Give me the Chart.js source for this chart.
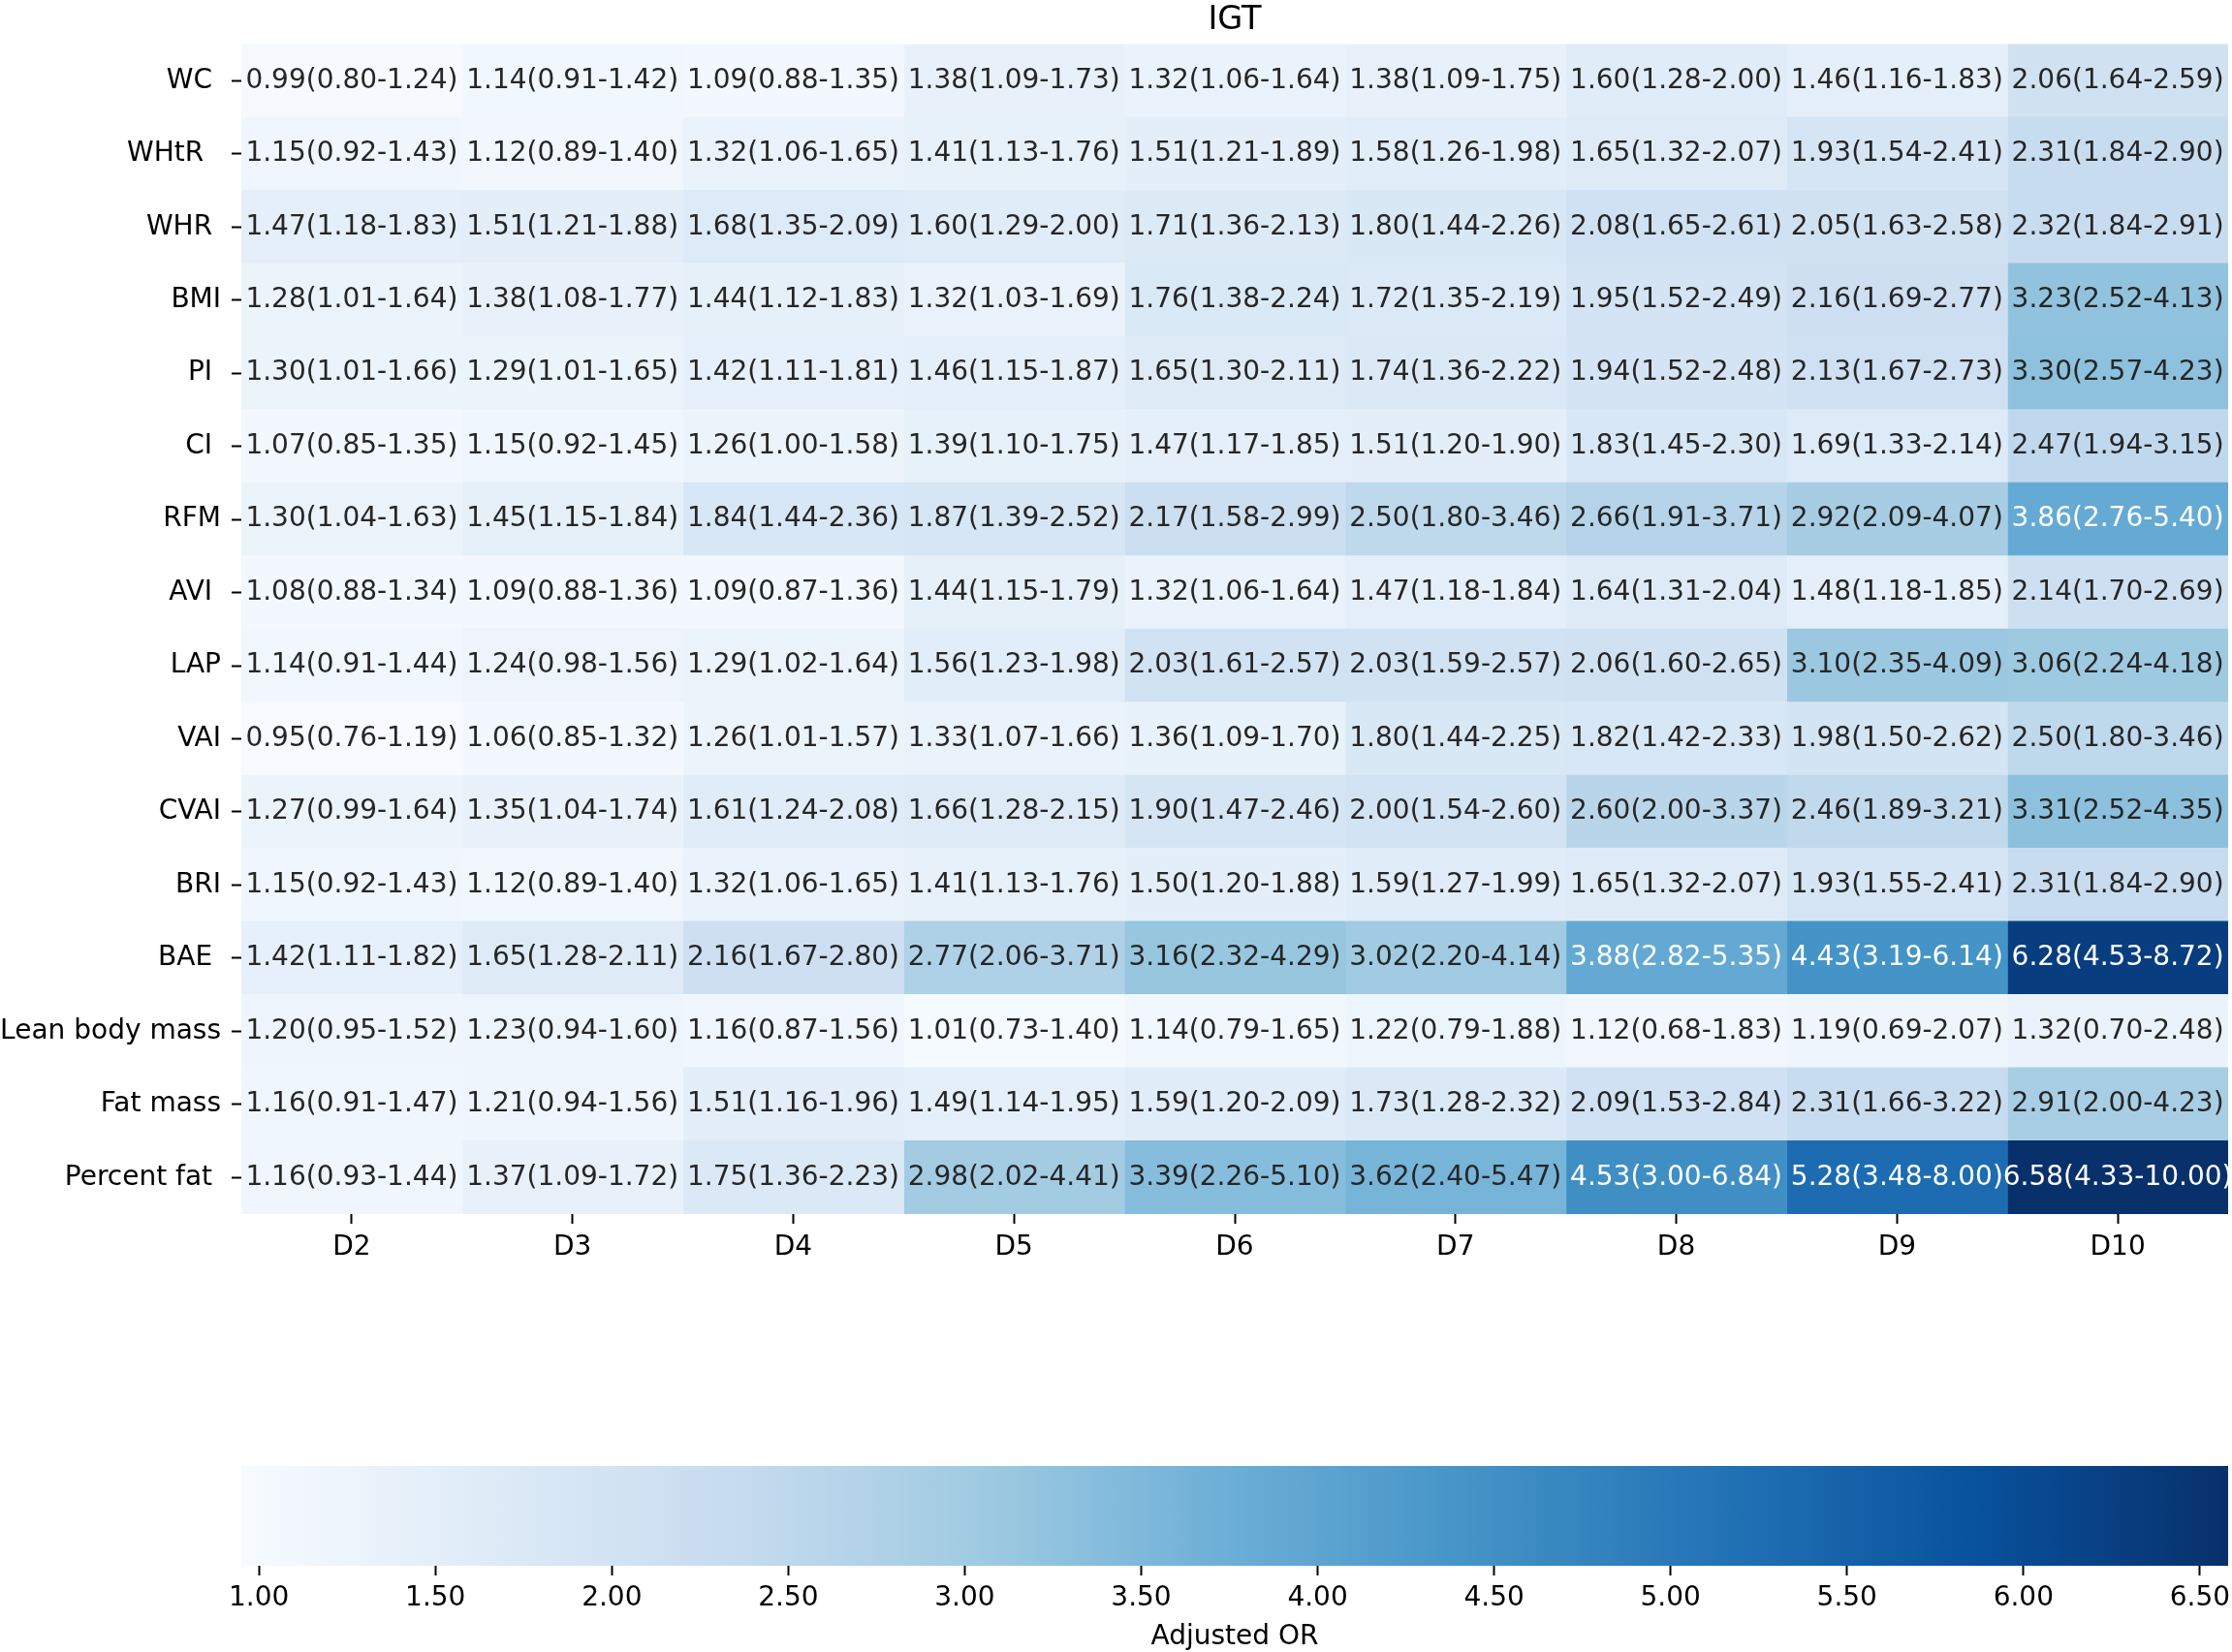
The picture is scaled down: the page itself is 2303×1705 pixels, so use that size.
<!doctype html>
<html lang="en">
<head>
<meta charset="utf-8">
<title>IGT</title>
<script src="https://cdn.jsdelivr.net/npm/chart.js@4.4.1/dist/chart.umd.min.js"></script>
<style>
  body { margin: 0; background: #fff; }
  #wrap { position: relative; width: 2303px; height: 1705px; }
  #heat { position: absolute; left: 0; top: 0; }
  #cbar { position: absolute; left: 0; top: 1330px; }
</style>
</head>
<body>
<div id="wrap">
  <canvas id="heat" width="2303" height="1330"></canvas>
  <canvas id="cbar" width="2303" height="375"></canvas>
</div>
<script>
// labels keep the trailing spaces they have in the original figure
var rows = ["WC ", "WHtR  ", "WHR ", "BMI", "PI ", "CI ", "RFM", "AVI ", "LAP", "VAI",
            "CVAI", "BRI", "BAE ", "Lean body mass", "Fat mass", "Percent fat "];
var cols = ["D2", "D3", "D4", "D5", "D6", "D7", "D8", "D9", "D10"];

// adjusted OR per row (rows) and decile (cols)
var orVals = [
  [0.99, 1.14, 1.09, 1.38, 1.32, 1.38, 1.60, 1.46, 2.06],
  [1.15, 1.12, 1.32, 1.41, 1.51, 1.58, 1.65, 1.93, 2.31],
  [1.47, 1.51, 1.68, 1.60, 1.71, 1.80, 2.08, 2.05, 2.32],
  [1.28, 1.38, 1.44, 1.32, 1.76, 1.72, 1.95, 2.16, 3.23],
  [1.30, 1.29, 1.42, 1.46, 1.65, 1.74, 1.94, 2.13, 3.30],
  [1.07, 1.15, 1.26, 1.39, 1.47, 1.51, 1.83, 1.69, 2.47],
  [1.30, 1.45, 1.84, 1.87, 2.17, 2.50, 2.66, 2.92, 3.86],
  [1.08, 1.09, 1.09, 1.44, 1.32, 1.47, 1.64, 1.48, 2.14],
  [1.14, 1.24, 1.29, 1.56, 2.03, 2.03, 2.06, 3.10, 3.06],
  [0.95, 1.06, 1.26, 1.33, 1.36, 1.80, 1.82, 1.98, 2.50],
  [1.27, 1.35, 1.61, 1.66, 1.90, 2.00, 2.60, 2.46, 3.31],
  [1.15, 1.12, 1.32, 1.41, 1.50, 1.59, 1.65, 1.93, 2.31],
  [1.42, 1.65, 2.16, 2.77, 3.16, 3.02, 3.88, 4.43, 6.28],
  [1.20, 1.23, 1.16, 1.01, 1.14, 1.22, 1.12, 1.19, 1.32],
  [1.16, 1.21, 1.51, 1.49, 1.59, 1.73, 2.09, 2.31, 2.91],
  [1.16, 1.37, 1.75, 2.98, 3.39, 3.62, 4.53, 5.28, 6.58]
];
var ciLow = [
  [0.80, 0.91, 0.88, 1.09, 1.06, 1.09, 1.28, 1.16, 1.64],
  [0.92, 0.89, 1.06, 1.13, 1.21, 1.26, 1.32, 1.54, 1.84],
  [1.18, 1.21, 1.35, 1.29, 1.36, 1.44, 1.65, 1.63, 1.84],
  [1.01, 1.08, 1.12, 1.03, 1.38, 1.35, 1.52, 1.69, 2.52],
  [1.01, 1.01, 1.11, 1.15, 1.30, 1.36, 1.52, 1.67, 2.57],
  [0.85, 0.92, 1.00, 1.10, 1.17, 1.20, 1.45, 1.33, 1.94],
  [1.04, 1.15, 1.44, 1.39, 1.58, 1.80, 1.91, 2.09, 2.76],
  [0.88, 0.88, 0.87, 1.15, 1.06, 1.18, 1.31, 1.18, 1.70],
  [0.91, 0.98, 1.02, 1.23, 1.61, 1.59, 1.60, 2.35, 2.24],
  [0.76, 0.85, 1.01, 1.07, 1.09, 1.44, 1.42, 1.50, 1.80],
  [0.99, 1.04, 1.24, 1.28, 1.47, 1.54, 2.00, 1.89, 2.52],
  [0.92, 0.89, 1.06, 1.13, 1.20, 1.27, 1.32, 1.55, 1.84],
  [1.11, 1.28, 1.67, 2.06, 2.32, 2.20, 2.82, 3.19, 4.53],
  [0.95, 0.94, 0.87, 0.73, 0.79, 0.79, 0.68, 0.69, 0.70],
  [0.91, 0.94, 1.16, 1.14, 1.20, 1.28, 1.53, 1.66, 2.00],
  [0.93, 1.09, 1.36, 2.02, 2.26, 2.40, 3.00, 3.48, 4.33]
];
var ciHigh = [
  [1.24, 1.42, 1.35, 1.73, 1.64, 1.75, 2.00, 1.83, 2.59],
  [1.43, 1.40, 1.65, 1.76, 1.89, 1.98, 2.07, 2.41, 2.90],
  [1.83, 1.88, 2.09, 2.00, 2.13, 2.26, 2.61, 2.58, 2.91],
  [1.64, 1.77, 1.83, 1.69, 2.24, 2.19, 2.49, 2.77, 4.13],
  [1.66, 1.65, 1.81, 1.87, 2.11, 2.22, 2.48, 2.73, 4.23],
  [1.35, 1.45, 1.58, 1.75, 1.85, 1.90, 2.30, 2.14, 3.15],
  [1.63, 1.84, 2.36, 2.52, 2.99, 3.46, 3.71, 4.07, 5.40],
  [1.34, 1.36, 1.36, 1.79, 1.64, 1.84, 2.04, 1.85, 2.69],
  [1.44, 1.56, 1.64, 1.98, 2.57, 2.57, 2.65, 4.09, 4.18],
  [1.19, 1.32, 1.57, 1.66, 1.70, 2.25, 2.33, 2.62, 3.46],
  [1.64, 1.74, 2.08, 2.15, 2.46, 2.60, 3.37, 3.21, 4.35],
  [1.43, 1.40, 1.65, 1.76, 1.88, 1.99, 2.07, 2.41, 2.90],
  [1.82, 2.11, 2.80, 3.71, 4.29, 4.14, 5.35, 6.14, 8.72],
  [1.52, 1.60, 1.56, 1.40, 1.65, 1.88, 1.83, 2.07, 2.48],
  [1.47, 1.56, 1.96, 1.95, 2.09, 2.32, 2.84, 3.22, 4.23],
  [1.44, 1.72, 2.23, 4.41, 5.10, 5.47, 6.84, 8.00, 10.00]
];

var cbTicks = [1.00, 1.50, 2.00, 2.50, 3.00, 3.50, 4.00, 4.50, 5.00, 5.50, 6.00, 6.50];

// matplotlib "Blues"
var blues = ["#f7fbff", "#deebf7", "#c6dbef", "#9ecae1", "#6baed6",
             "#4292c6", "#2171b5", "#08519c", "#08306b"];

var allVals = [].concat.apply([], orVals);
var vmin = Math.min.apply(null, allVals);
var vmax = Math.max.apply(null, allVals);

function hexRgb(h) {
    return [parseInt(h.substr(1, 2), 16), parseInt(h.substr(3, 2), 16), parseInt(h.substr(5, 2), 16)];
}

function cmap(v) {
    var t = Math.max(0, Math.min(1, (v - vmin) / (vmax - vmin)));
    var pos = t * (blues.length - 1);
    var k = Math.min(Math.floor(pos), blues.length - 2);
    var f = pos - k;
    var a = hexRgb(blues[k]), b = hexRgb(blues[k + 1]);
    return [0, 1, 2].map(function (n) { return Math.round(a[n] + (b[n] - a[n]) * f); });
}

function css(rgb) {
    return "rgb(" + rgb.join(",") + ")";
}

// same rule seaborn uses for annotation colour
function textColor(v) {
    var c = cmap(v).map(function (x) {
        x = x / 255;
        return x <= 0.03928 ? x / 12.92 : Math.pow((x + 0.055) / 1.055, 2.4);
    });
    var lum = 0.2126 * c[0] + 0.7152 * c[1] + 0.0722 * c[2];
    return lum > 0.408 ? "#262626" : "#ffffff";
}

function cellLabel(i, j) {
    return orVals[i][j].toFixed(2) + "(" + ciLow[i][j].toFixed(2) + "-" + ciHigh[i][j].toFixed(2) + ")";
}

Chart.defaults.font.family = "'DejaVu Sans'";
Chart.defaults.font.size = 28;
Chart.defaults.color = "#000";

var cellText = {
    id: "cellText",
    afterDatasetsDraw: function (chart) {
        var ctx = chart.ctx;
        ctx.save();
        ctx.font = "28px 'DejaVu Sans'";
        ctx.textAlign = "center";
        ctx.textBaseline = "middle";
        chart.data.datasets.forEach(function (ds, j) {
            chart.getDatasetMeta(j).data.forEach(function (bar, i) {
                ctx.fillStyle = textColor(orVals[i][j]);
                ctx.fillText(cellLabel(i, j), (bar.x + bar.base) / 2, bar.y);
            });
        });
        ctx.restore();
    }
};

var datasets = cols.map(function (c, j) {
    return {
        label: c,
        data: rows.map(function () { return [j, j + 1]; }),
        backgroundColor: rows.map(function (r, i) { return css(cmap(orVals[i][j])); }),
        borderWidth: 0,
        borderSkipped: false,
        inflateAmount: 0.6,
        grouped: false,
        barPercentage: 1,
        categoryPercentage: 1
    };
});

new Chart(document.getElementById("heat"), {
    type: "bar",
    data: { labels: rows, datasets: datasets },
    plugins: [cellText],
    options: {
        indexAxis: "y",
        responsive: false,
        animation: false,
        layout: { padding: { left: 0, right: 4, top: 0, bottom: 0 } },
        plugins: {
            legend: { display: false },
            tooltip: { enabled: false },
            title: {
                display: true,
                text: "IGT",
                fullSize: false,
                color: "#000",
                font: { size: 33.6, weight: "normal", lineHeight: 1 },
                padding: { top: 4, bottom: 8 }
            }
        },
        scales: {
            x: {
                type: "linear",
                min: 0,
                max: cols.length,
                afterBuildTicks: function (scale) {
                    scale.ticks = cols.map(function (c, j) { return { value: j + 0.5 }; });
                },
                afterFit: function (scale) {
                    scale.height = 77;
                    scale.paddingLeft = 0;
                    scale.paddingRight = 0;
                },
                ticks: {
                    padding: 8,
                    autoSkip: false,
                    maxRotation: 0,
                    callback: function (v) { return cols[Math.floor(v)]; }
                },
                grid: { drawOnChartArea: false, drawTicks: true, tickLength: 10, tickColor: "#000", tickWidth: 2 },
                border: { display: false }
            },
            y: {
                type: "category",
                offset: true,
                afterFit: function (scale) { scale.width = 249; },
                ticks: { padding: 11, autoSkip: false },
                grid: { offset: false, drawOnChartArea: false, drawTicks: true, tickLength: 10, tickColor: "#000", tickWidth: 2 },
                border: { display: false }
            }
        }
    }
});

// colour bar
new Chart(document.getElementById("cbar"), {
    type: "bar",
    data: {
        labels: [""],
        datasets: [{
            data: [[vmin, vmax]],
            backgroundColor: function (ctx) {
                var ca = ctx.chart.chartArea;
                if (!ca) return blues[0];
                var g = ctx.chart.ctx.createLinearGradient(ca.left, 0, ca.right, 0);
                blues.forEach(function (c, k) { g.addColorStop(k / (blues.length - 1), c); });
                return g;
            },
            borderWidth: 0,
            borderSkipped: false,
            barPercentage: 1,
            categoryPercentage: 1
        }]
    },
    options: {
        indexAxis: "y",
        responsive: false,
        animation: false,
        layout: { padding: { left: 249, right: 4, top: 183, bottom: 0 } },
        plugins: { legend: { display: false }, tooltip: { enabled: false } },
        scales: {
            x: {
                type: "linear",
                min: vmin,
                max: vmax,
                afterBuildTicks: function (scale) {
                    scale.ticks = cbTicks.map(function (v) { return { value: v }; });
                },
                afterFit: function (scale) {
                    scale.height = 89;
                    scale.paddingLeft = 0;
                    scale.paddingRight = 0;
                },
                ticks: {
                    padding: 7,
                    autoSkip: false,
                    maxRotation: 0,
                    callback: function (v) { return v.toFixed(2); }
                },
                title: {
                    display: true,
                    text: "Adjusted OR",
                    color: "#000",
                    font: { size: 28 },
                    padding: { top: 0, bottom: -2 }
                },
                grid: { drawOnChartArea: false, drawTicks: true, tickLength: 10, tickColor: "#000", tickWidth: 2 },
                border: { display: false }
            },
            y: { display: false }
        }
    }
});
</script>
</body>
</html>
